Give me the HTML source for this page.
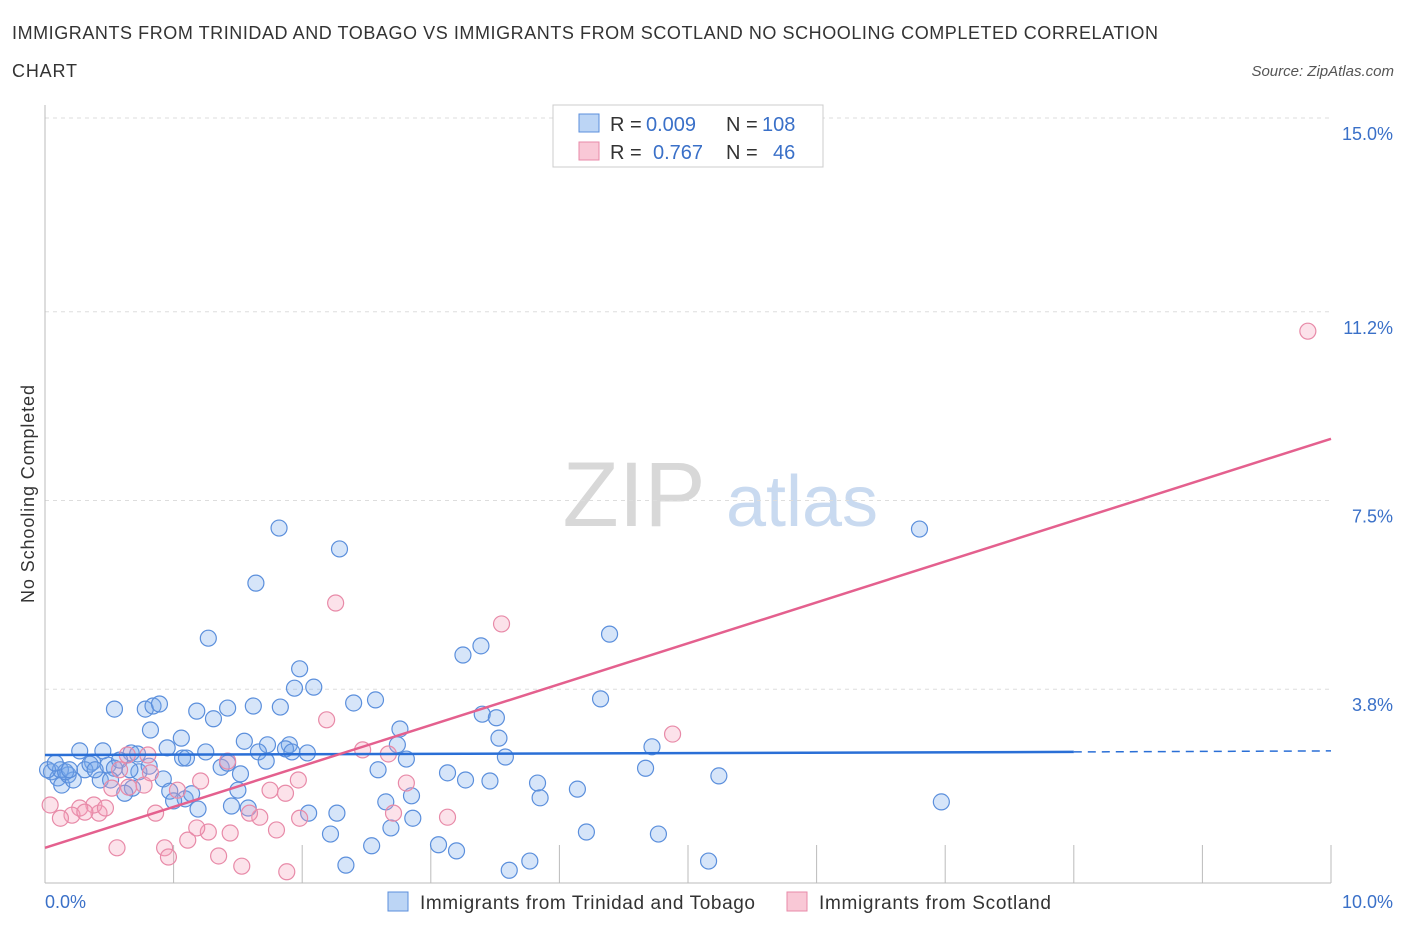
<!DOCTYPE html>
<html><head><meta charset="utf-8">
<style>
body{margin:0;background:#fff;font-family:"Liberation Sans",sans-serif;}
svg text{font-family:"Liberation Sans",sans-serif;}
</style></head>
<body>
<svg id="chart" width="1406" height="930" xmlns="http://www.w3.org/2000/svg">
<text x="12" y="39" font-size="18" fill="#333" textLength="1146" lengthAdjust="spacing">IMMIGRANTS FROM TRINIDAD AND TOBAGO VS IMMIGRANTS FROM SCOTLAND NO SCHOOLING COMPLETED CORRELATION</text>
<text x="12" y="77" font-size="18" fill="#333" textLength="65" lengthAdjust="spacing">CHART</text>
<text x="1394" y="76" font-size="15" fill="#555" font-style="italic" text-anchor="end">Source: ZipAtlas.com</text>
<text transform="translate(34,494) rotate(-90)" font-size="18" fill="#333" text-anchor="middle" textLength="218" lengthAdjust="spacing">No Schooling Completed</text>
<g>
<text x="634" y="526" font-size="92" fill="#d8d8d8" font-family="Liberation Serif" text-anchor="middle">ZIP</text>
<text x="802" y="526" font-size="72" fill="#c9daf0" text-anchor="middle">atlas</text>
</g>
<g id="grid"></g>
<g id="axes"></g>
<g id="pts"></g>
<g id="trend"></g>
<g>
<rect x="553" y="105" width="270" height="62" fill="#fff" stroke="#ccc"/>
<rect x="579" y="114" width="20" height="18" fill="#bcd5f5" stroke="#5b8fdc"/>
<rect x="579" y="142" width="20" height="18" fill="#f9c8d6" stroke="#e88aa8"/>
<text x="610" y="131" font-size="20" fill="#333">R =</text>
<text x="646" y="131" font-size="20" fill="#3a70c8">0.009</text>
<text x="726" y="131" font-size="20" fill="#333">N =</text>
<text x="762" y="131" font-size="20" fill="#3a70c8">108</text>
<text x="610" y="159" font-size="20" fill="#333">R =</text>
<text x="653" y="159" font-size="20" fill="#3a70c8">0.767</text>
<text x="726" y="159" font-size="20" fill="#333">N =</text>
<text x="773" y="159" font-size="20" fill="#3a70c8">46</text>
</g>
<g>
<rect x="388" y="892" width="20" height="19" fill="#bcd5f5" stroke="#5b8fdc"/>
<text x="420" y="909" font-size="19" fill="#333" textLength="335" lengthAdjust="spacing">Immigrants from Trinidad and Tobago</text>
<rect x="787" y="892" width="20" height="19" fill="#f9c8d6" stroke="#e88aa8"/>
<text x="819" y="909" font-size="19" fill="#333" textLength="232" lengthAdjust="spacing">Immigrants from Scotland</text>
</g>
</svg>
<script>
const yTicks=[3.8,7.5,11.2,15.0];
const yTickLabels=["3.8%","7.5%","11.2%","15.0%"];
const xTickLabels=["0.0%","10.0%"];
const blueX=[1.82,2.29,1.64,1.27,1.98,1.94,2.09,1.42,1.62,1.83,1.18,1.31,0.78,0.54,0.84,0.89,0.82,1.06,0.95,2.40,2.57,2.76,2.74,2.81,2.59,1.55,1.73,1.66,1.90,1.87,1.92,1.72,2.04,1.25,1.07,1.10,1.37,1.52,0.92,0.68,0.62,0.67,0.49,0.45,0.27,0.37,0.54,0.73,0.72,0.81,0.97,1.09,1.14,1.00,1.19,1.50,1.45,1.58,2.05,2.27,2.22,2.54,2.34,2.65,2.85,2.69,2.86,3.06,3.20,3.13,3.27,3.46,3.83,3.85,4.14,4.21,4.77,5.16,3.61,3.77,3.25,3.39,3.40,3.51,3.53,3.58,4.39,4.32,4.72,4.67,5.24,6.80,6.97,0.05,0.10,0.13,0.18,0.22,0.31,0.35,0.43,0.12,0.16,0.02,0.08,0.19,0.58,0.39,0.51,0.66,1.42];
const blueY=[6.96,6.55,5.88,4.80,4.20,3.82,3.84,3.43,3.47,3.45,3.37,3.22,3.41,3.41,3.47,3.51,3.00,2.84,2.65,3.53,3.59,3.02,2.71,2.43,2.22,2.78,2.71,2.57,2.71,2.63,2.57,2.39,2.55,2.57,2.45,2.45,2.27,2.14,2.04,1.86,1.76,2.55,2.31,2.59,2.59,2.37,2.25,2.18,2.53,2.29,1.80,1.65,1.75,1.61,1.45,1.82,1.51,1.47,1.37,1.37,0.96,0.73,0.35,1.59,1.71,1.08,1.27,0.75,0.63,2.16,2.02,2.00,1.96,1.67,1.84,1.00,0.96,0.43,0.25,0.43,4.47,4.65,3.31,3.24,2.84,2.47,4.88,3.61,2.67,2.25,2.10,6.94,1.59,2.18,2.06,1.92,2.12,2.02,2.22,2.33,2.02,2.22,2.18,2.22,2.35,2.22,2.41,2.22,2.02,2.22,2.35];
const pinkX=[9.82,2.26,3.55,2.19,4.88,2.67,2.47,1.42,2.81,2.71,3.13,1.97,1.75,1.87,1.80,1.98,1.67,1.59,1.44,1.27,1.11,1.18,0.93,0.96,1.35,1.53,1.88,0.56,0.65,0.77,0.82,1.03,1.21,0.86,0.52,0.42,0.38,0.47,0.27,0.21,0.12,0.31,0.04,0.80,0.64,0.58];
const pinkY=[10.82,5.49,5.08,3.20,2.92,2.53,2.61,2.39,1.96,1.37,1.29,2.02,1.82,1.76,1.04,1.27,1.29,1.37,0.98,1.00,0.84,1.08,0.69,0.51,0.53,0.33,0.22,0.69,1.88,1.92,2.16,1.82,2.00,1.37,1.86,1.37,1.53,1.47,1.47,1.33,1.27,1.39,1.53,2.51,2.51,2.22];
const blueTrend=[2.51,2.57,2.59]; // at x=0, 8, 10
const pinkTrend=[0.69,8.71]; // at x=0, 10
const NS="http://www.w3.org/2000/svg";
const X=v=>45+v*128.6, Y=v=>883-v*51;
function mk(t,a,p){const e=document.createElementNS(NS,t);for(const k in a)e.setAttribute(k,a[k]);p.appendChild(e);return e;}
const grid=document.getElementById('grid'),axes=document.getElementById('axes');
yTicks.forEach((v,i)=>{
 const l=mk('line',{x1:45,x2:1331,y1:Y(v),y2:Y(v),stroke:'#ddd','stroke-dasharray':'4,4'},grid);
 
 
 const t=mk('text',{x:1393,y:Y(v)+22,'font-size':18,fill:'#3a70c8','text-anchor':'end'},axes);
 t.textContent=yTickLabels[i];
 
 
});
const ya=mk('line',{x1:45,x2:45,y1:105,y2:883,stroke:'#bbb'},axes);


const xa=mk('line',{x1:45,x2:1331,y1:883,y2:883,stroke:'#bbb'},axes);


for(let i=1;i<=10;i++){const tk=mk('line',{x1:X(i),x2:X(i),y1:845,y2:883,stroke:'#bbb'},axes);
 
 }
const xl0=mk('text',{x:45,y:908,'font-size':18,fill:'#3a70c8'},axes);xl0.textContent=xTickLabels[0];


const xl1=mk('text',{x:1393,y:908,'font-size':18,fill:'#3a70c8','text-anchor':'end'},axes);xl1.textContent=xTickLabels[1];


const pts=document.getElementById('pts');
blueX.forEach((v,i)=>{const c=mk('circle',{cx:X(v),cy:Y(blueY[i]),r:8,fill:'rgba(120,170,235,0.3)',stroke:'#5b8fdc','stroke-width':1.2},pts);
 
 });
pinkX.forEach((v,i)=>{const c=mk('circle',{cx:X(v),cy:Y(pinkY[i]),r:8,fill:'rgba(245,160,185,0.3)',stroke:'#e88aa8','stroke-width':1.2},pts);
 
 });
const tr=document.getElementById('trend');
const b1=mk('line',{x1:X(0),y1:Y(blueTrend[0]),x2:X(8),y2:Y(blueTrend[1]),stroke:'#2a6fd6','stroke-width':2.5},tr);


const b2=mk('line',{x1:X(8),y1:Y(blueTrend[1]),x2:X(10),y2:Y(blueTrend[2]),stroke:'#2a6fd6','stroke-width':1.5,'stroke-dasharray':'8,6'},tr);


const p1=mk('line',{x1:X(0),y1:Y(pinkTrend[0]),x2:X(10),y2:Y(pinkTrend[1]),stroke:'#e4608e','stroke-width':2.5},tr);


</script>
</body></html>
